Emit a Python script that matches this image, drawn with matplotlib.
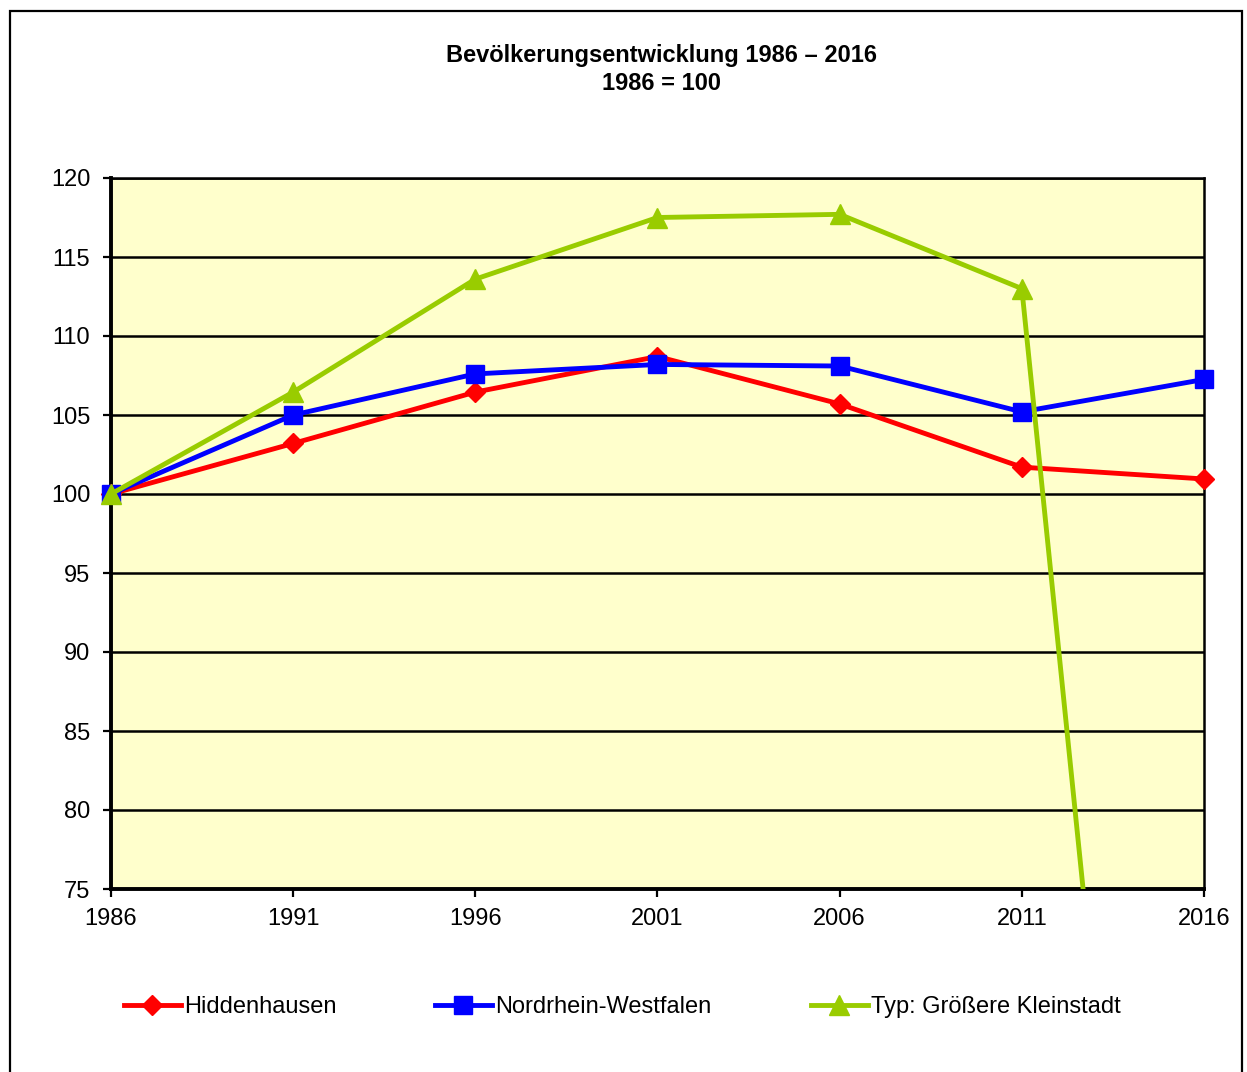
import numpy as np
import matplotlib
matplotlib.use("Agg")
import matplotlib.pyplot as plt
from matplotlib.lines import Line2D
from matplotlib.patches import Rectangle

years = [1986, 1991, 1996, 2001, 2006, 2011, 2016]
hiddenhausen = [100.0, 103.2, 106.45, 108.7, 105.7, 101.7, 100.95]
nrw = [100.0, 105.0, 107.6, 108.2, 108.1, 105.2, 107.25]
kleinstadt = [100.0, 106.45, 113.6, 117.5, 117.7, 113.0, 0.0]
labels = ["Hiddenhausen", "Nordrhein-Westfalen", "Typ: Größere Kleinstadt"]
title = "Bevölkerungsentwicklung 1986 – 2016\n1986 = 100"
yticks = [75, 80, 85, 90, 95, 100, 105, 110, 115, 120]

plt.rcParams['font.family'] = ['Liberation Sans', 'DejaVu Sans']

W, H = 1247, 1072
fig = plt.figure(figsize=(W / 100, H / 100), dpi=100)
ax = fig.add_axes([111 / W, 1 - 889 / H, (1204 - 111) / W, (889 - 178) / H])
ax.set_facecolor('#FFFFCC')

ymin, ymax = 75, 120
ax.set_xlim(1986, 2016)
ax.set_ylim(ymin, ymax)

for yv in yticks:
    ax.axhline(yv, color='black', lw=1.8, zorder=1)

red, blue, green = '#FF0000', '#0000FF', '#99CC00'
LW = 3.5
ax.plot(years, hiddenhausen, color=red, lw=LW, marker='D', ms=10, mec=red, clip_on=False, zorder=3)
ax.plot(years, nrw, color=blue, lw=LW, marker='s', ms=12.5, mec=blue, clip_on=False, zorder=4)
# green: line clipped to the plot area, markers only for visible points
ax.plot(years, kleinstadt, color=green, lw=LW, zorder=5)
k = np.array(kleinstadt)
yr = np.array(years)
vis = (k >= ymin) & (k <= ymax)
ax.plot(yr[vis], k[vis], ls='none', marker='^', ms=14, color=green, mec=green, clip_on=False, zorder=6)

ax.set_xticks(years)
ax.set_yticks(yticks)
ax.tick_params(axis='both', direction='out', length=6, width=1.6, labelsize=17, colors='black')
ax.tick_params(axis='y', pad=9)
ax.tick_params(axis='x', pad=8)
for s in ['left', 'bottom']:
    ax.spines[s].set_linewidth(2.8)
for s in ['top', 'right']:
    ax.spines[s].set_linewidth(1.8)

fig.text(662 / W, 1 - 69.5 / H, title, ha='center', va='center', fontsize=17,
         fontweight='bold', linespacing=1.3)

# outer frame
fig.add_artist(Rectangle((10 / W, -0.01), (1242 - 10) / W, (1 - 11 / H) + 0.01,
                         transform=fig.transFigure, fill=False, ec='black', lw=1.6))

handles = [
    Line2D([], [], color=red, lw=LW, marker='D', ms=10, mec=red),
    Line2D([], [], color=blue, lw=LW, marker='s', ms=12.5, mec=blue),
    Line2D([], [], color=green, lw=LW, marker='^', ms=14, mec=green),
]
xs = [124, 435, 811]
for h, lab, x0 in zip(handles, labels, xs):
    fig.legend([h], [lab], loc='center left', bbox_to_anchor=(x0 / W, 1 - 1007 / H),
               frameon=False, fontsize=17, handlelength=2.4, handletextpad=0.15,
               borderpad=0, borderaxespad=0)

fig.savefig('out.png', dpi=100, facecolor='white')
